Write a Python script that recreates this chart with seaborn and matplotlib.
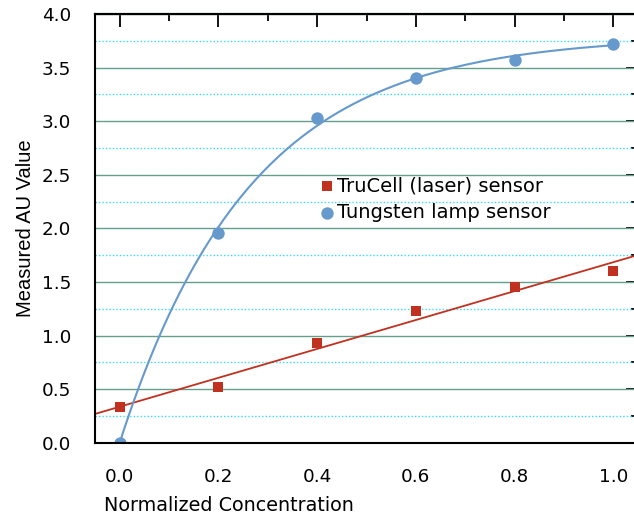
import numpy as np
import pandas as pd
import matplotlib
matplotlib.use("Agg")
import matplotlib.pyplot as plt
from matplotlib.ticker import MultipleLocator, FormatStrFormatter
import seaborn as sns

concentration = [0.0, 0.2, 0.4, 0.6, 0.8, 1.0]
trucell_au = [0.33, 0.52, 0.93, 1.23, 1.45, 1.60]
tungsten_au = [0.0, 1.96, 3.03, 3.40, 3.57, 3.72]

red = "#C0311F"
blue = "#6699CC"

sns.set_theme(style="white")
plt.rcParams["font.family"] = ["DejaVu Sans"]
plt.rcParams["text.color"] = "black"
plt.rcParams["axes.labelcolor"] = "black"
plt.rcParams["xtick.color"] = "black"
plt.rcParams["ytick.color"] = "black"

df = pd.DataFrame({"x": concentration, "trucell": trucell_au, "tungsten": tungsten_au})

# linear fit for the laser sensor
slope, icpt = np.polyfit(df["x"], df["trucell"], 1)
xl = np.linspace(-0.05, 1.05, 50)
lin = pd.DataFrame({"x": xl, "y": slope * xl + icpt})

# saturating fit y = a(1 - exp(-b x)) for the lamp sensor
xs = df["x"].to_numpy()
ys = df["tungsten"].to_numpy()
best = None
for b in np.linspace(0.5, 10, 4000):
    f = 1 - np.exp(-b * xs)
    a = (ys * f).sum() / (f * f).sum()
    err = ((a * f - ys) ** 2).sum()
    if best is None or err < best[0]:
        best = (err, a, b)
_, a_fit, b_fit = best
xc = np.linspace(0, 1, 200)
curve = pd.DataFrame({"x": xc, "y": a_fit * (1 - np.exp(-b_fit * xc))})

fig = plt.figure(figsize=(6.34, 5.22), dpi=100)
ax = fig.add_axes([95 / 634, 1 - 442.7 / 522, (638 - 95) / 634, (442.7 - 14) / 522])

sns.lineplot(data=lin, x="x", y="y", ax=ax, color=red, lw=1.3, zorder=2.2)
sns.lineplot(data=curve, x="x", y="y", ax=ax, color=blue, lw=1.5, zorder=2.2)
h1 = ax.scatter(df["x"], df["trucell"], marker="s", s=55, color=red, lw=0, zorder=2.4,
                label="TruCell (laser) sensor")
h2 = ax.scatter(df["x"], df["tungsten"], marker="o", s=80, color=blue, lw=0, zorder=2.4,
                label="Tungsten lamp sensor")

ax.set_xlim(-0.05, 1.05)
ax.set_ylim(0, 4.0)
ax.xaxis.set_major_locator(MultipleLocator(0.2))
ax.xaxis.set_minor_locator(MultipleLocator(0.1))
ax.yaxis.set_major_locator(MultipleLocator(0.5))
ax.yaxis.set_minor_locator(MultipleLocator(0.25))
ax.xaxis.set_major_formatter(FormatStrFormatter("%.1f"))
ax.yaxis.set_major_formatter(FormatStrFormatter("%.1f"))

ax.set_axisbelow(True)
ax.grid(False)
ax.yaxis.grid(True, which="major", color="#659F8B", lw=1.0, ls="-")
ax.yaxis.grid(True, which="minor", color="#33E0F5", lw=1.0, ls=(0, (1, 1.5)))

ax.tick_params(which="both", direction="out", top=False, right=False, color="black",
               labelsize=13.2, pad=8, width=1.3)
ax.tick_params(which="major", length=9)
ax.tick_params(which="minor", length=5)
ax.tick_params(axis="x", pad=9)
for s in ax.spines.values():
    s.set_color("black")
    s.set_linewidth(1.5)

top = ax.secondary_xaxis("top")
top.xaxis.set_major_locator(MultipleLocator(0.2))
top.xaxis.set_minor_locator(MultipleLocator(0.1))
top.tick_params(which="both", direction="in", labeltop=False, width=1.3, color="black")
top.tick_params(which="major", length=9)
top.tick_params(which="minor", length=5)
top.spines["top"].set_linewidth(1.5)
top.spines["top"].set_color("black")

right = ax.secondary_yaxis("right")
right.yaxis.set_major_locator(MultipleLocator(0.5))
right.yaxis.set_minor_locator(MultipleLocator(0.25))
right.tick_params(which="both", direction="in", labelright=False, width=1.3, color="black")
right.tick_params(which="major", length=9)
right.tick_params(which="minor", length=5)

ax.set_xlabel("Normalized Concentration", fontsize=13.8, ha="left")
ax.xaxis.set_label_coords((104 - 95) / (638 - 95), -0.125)
ax.set_ylabel("Measured AU Value", fontsize=14.5, family=["Liberation Sans", "DejaVu Sans"],
              va="center")
ax.yaxis.set_label_coords(-(95 - 25) / (638 - 95), 0.5)

ax.legend(handles=[h1, h2], loc="upper left", bbox_to_anchor=(321 / 634, 1 - 176 / 522),
          bbox_transform=fig.transFigure, frameon=False, fontsize=14, handlelength=0.6,
          handletextpad=0.2, borderpad=0, borderaxespad=0, labelspacing=0.4)

fig.savefig("out.png", dpi=100)
